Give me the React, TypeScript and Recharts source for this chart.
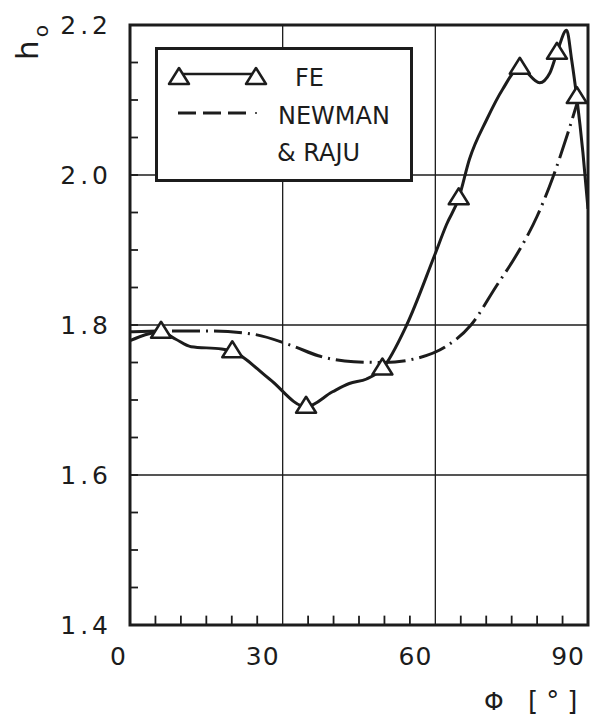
import React from 'react';
import {
  ComposedChart, Line, Scatter, XAxis, YAxis, ReferenceLine, ReferenceArea,
} from 'recharts';

// FE curve
const fePhi = [0, 3, 6.1, 9, 12, 18, 20.1, 27.4, 34.6, 39.8, 43.1, 46.5, 49.6, 54.3, 59.8, 62.2, 64.6, 66.7, 70.1, 73.2, 76.6, 80.5, 82.5, 83.9, 85.8, 86.8, 87.8, 89.0, 90];
const feH = [1.779, 1.787, 1.791, 1.781, 1.771, 1.768, 1.765, 1.728, 1.691, 1.711, 1.722, 1.728, 1.742, 1.799, 1.892, 1.934, 1.969, 2.021, 2.074, 2.114, 2.143, 2.123, 2.136, 2.163, 2.193, 2.153, 2.103, 2.030, 1.955];

// FE nodes (triangles)
const nodePhi = [6.1, 20.1, 34.6, 49.6, 64.6, 76.6, 83.9, 87.8];
const nodeH = [1.791, 1.765, 1.691, 1.742, 1.969, 2.143, 2.163, 2.104];

// Newman & Raju
const nrPhi = [0, 8, 16, 24, 32, 37, 44, 50, 56, 62, 67, 72, 76, 80, 83, 86, 88.5];
const nrH = [1.791, 1.792, 1.792, 1.788, 1.772, 1.759, 1.751, 1.750, 1.755, 1.771, 1.800, 1.852, 1.894, 1.945, 1.995, 2.055, 2.11];

const xTicks = [0, 30, 60, 90];
const xMinor = [5, 10, 15, 20, 25, 35, 40, 45, 50, 55, 65, 70, 75, 80, 85];
const yTicks = [1.4, 1.45, 1.5, 1.55, 1.6, 1.65, 1.7, 1.75, 1.8, 1.85, 1.9, 1.95, 2.0, 2.05, 2.1, 2.15, 2.2];
const yLabels = ['1.4', '1.6', '1.8', '2.0', '2.2'];
const xGrid = [30, 60];
const yGrid = [1.6, 1.8, 2.0];

const INK = '#1c1c1c';
const FONT = "'DejaVu Sans', sans-serif";

const feData = fePhi.map((x, i) => ({ x, y: feH[i] }));
const nodeData = nodePhi.map((x, i) => ({ x, y: nodeH[i] }));
const nrData = nrPhi.map((x, i) => ({ x, y: nrH[i] }));

const Tri = ({ cx, cy }: any) => (
  <path
    d={`M${cx},${cy - 10} L${cx + 10},${cy + 6} L${cx - 10},${cy + 6} Z`}
    fill="#fff" stroke={INK} strokeWidth={2.5} strokeLinejoin="round"
  />
);

const XTick = ({ x, y, payload }: any) => (
  <text x={x - 3} y={y + 40} textAnchor="end" fontSize={25} fill={INK} fontFamily={FONT} letterSpacing={1}>
    {payload.value}
  </text>
);

const YTick = ({ x, y, payload }: any) => {
  const v = payload.value;
  const s = v.toFixed(1);
  const labeled = Math.abs(v * 10 - Math.round(v * 10)) < 1e-6 && yLabels.includes(s);
  const edge = Math.abs(v - 1.4) < 1e-6 || Math.abs(v - 2.2) < 1e-6;
  return (
    <g>
      {!edge && <path d={`M${x},${y}H${x + 8}`} stroke={INK} strokeWidth={1.8} fill="none" />}
      {labeled && (
        <text x={x - 18} y={y} dy="0.36em" textAnchor="end" fontSize={25} fill={INK} fontFamily={FONT} letterSpacing={4}>
          {s}
        </text>
      )}
    </g>
  );
};

const Legend = () => (
  <div style={{
    position: 'absolute', left: 155, top: 47, width: 252, height: 129,
    border: `3px solid ${INK}`, background: '#fff',
  }}>
    <svg width={252} height={129} style={{ position: 'absolute', left: 0, top: 0 }}>
      <line x1={21} x2={98} y1={24} y2={24} stroke={INK} strokeWidth={2.5} />
      <Tri cx={21} cy={28} />
      <Tri cx={98} cy={28} />
      <line x1={20} x2={92} y1={63} y2={63} stroke={INK} strokeWidth={3} strokeDasharray="18 7" />
      <circle cx={98} cy={63} r={1} fill={INK} />
      <text x={137} y={36} fontSize={24} fontFamily={FONT} fill={INK}>FE</text>
      <text x={120} y={74} fontSize={24} fontFamily={FONT} fill={INK}>NEWMAN</text>
      <text x={119} y={111} fontSize={24} fontFamily={FONT} fill={INK}>&amp; RAJU</text>
    </svg>
  </div>
);

const Titles = () => (
  <svg width={594} height={716} style={{ position: 'absolute', left: 0, top: 0, pointerEvents: 'none' }}>
    <g transform="translate(38,60) rotate(-90)">
      <text x={0} y={0} fontSize={31} fontFamily={FONT} fill={INK}>
        h<tspan dy={10} dx={3} fontSize={20}>o</tspan>
      </text>
    </g>
    <text x={484} y={710} fontSize={25} fontFamily={FONT} fill={INK}>Φ</text>
    <text x={528} y={710} fontSize={26} fontFamily={FONT} fill={INK} letterSpacing={8}>[°]</text>
  </svg>
);

export default function App() {
  return (
    <div style={{ position: 'absolute', left: 0, top: 0, width: 594, height: 716, background: '#fff' }}>
      <ComposedChart width={594} height={716} margin={{ top: 25, right: 6, bottom: 0, left: 0 }}>
        <XAxis
          type="number" dataKey="x" domain={[0, 90]} ticks={xTicks} interval={0}
          tickSize={0} tickMargin={0} axisLine={false} tick={(p: any) => <XTick {...p} />}
          height={91} allowDataOverflow
        />
        <YAxis
          type="number" dataKey="y" domain={[1.4, 2.2]} ticks={yTicks} interval={0}
          tickSize={0} tickMargin={0} axisLine={false} tick={(p: any) => <YTick {...p} />}
          width={130} allowDataOverflow
        />
        {xGrid.map((v) => <ReferenceLine key={`gx${v}`} x={v} stroke={INK} strokeWidth={1.3} />)}
        {yGrid.map((v) => <ReferenceLine key={`gy${v}`} y={v} stroke={INK} strokeWidth={1.3} />)}
        {xMinor.map((v) => (
          <ReferenceLine
            key={`mx${v}`}
            segment={[{ x: v, y: 1.4 }, { x: v, y: 1.4125 }]}
            stroke={INK} strokeWidth={1.8}
          />
        ))}
        <Line
          data={nrData} dataKey="y" type="monotone" stroke={INK} strokeWidth={3}
          strokeDasharray="28 6 2 6" dot={false} isAnimationActive={false}
        />
        <Line
          data={feData} dataKey="y" type="monotone" stroke={INK} strokeWidth={3}
          dot={false} isAnimationActive={false}
        />
        <Scatter data={nodeData} dataKey="y" shape={<Tri />} isAnimationActive={false} />
        <ReferenceArea x1={0} x2={90} y1={1.4} y2={2.2} fill="none" stroke={INK} strokeWidth={3} />
      </ComposedChart>
      <Legend />
      <Titles />
    </div>
  );
}
